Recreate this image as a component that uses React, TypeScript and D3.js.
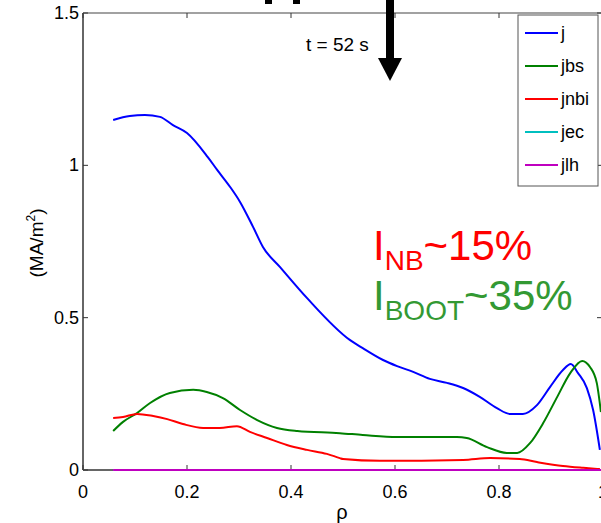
import React from "react";
import * as d3 from "d3";

const W = 601;
const H = 523;

const jRho = [0.058,0.090,0.119,0.148,0.173,0.200,0.240,0.258,0.283,0.302,0.327,0.346,0.379,0.431,0.513,0.538,0.577,0.604,0.635,0.667,0.700,0.731,0.763,0.796,0.821,0.846,0.873,0.898,0.923,0.938,0.952,0.969,0.981,0.994];
const jVal = [1.149,1.162,1.165,1.159,1.132,1.106,1.027,0.985,0.929,0.880,0.798,0.732,0.666,0.564,0.427,0.400,0.361,0.341,0.322,0.299,0.286,0.269,0.240,0.203,0.184,0.184,0.213,0.272,0.328,0.348,0.318,0.269,0.197,0.066];

const jbsRho = [0.058,0.077,0.104,0.129,0.167,0.212,0.238,0.269,0.302,0.335,0.373,0.412,0.494,0.538,0.604,0.719,0.738,0.777,0.815,0.835,0.860,0.885,0.912,0.937,0.960,0.975,0.988,0.996];
const jbsVal = [0.128,0.158,0.187,0.220,0.253,0.263,0.256,0.236,0.197,0.164,0.138,0.128,0.121,0.115,0.108,0.108,0.105,0.075,0.056,0.056,0.089,0.154,0.240,0.318,0.358,0.338,0.286,0.190];

const jnbiRho = [0.058,0.077,0.104,0.135,0.162,0.192,0.231,0.263,0.296,0.321,0.354,0.392,0.431,0.469,0.494,0.500,0.571,0.731,0.783,0.840,0.873,0.923,0.962,0.994];
const jnbiVal = [0.171,0.174,0.184,0.177,0.167,0.151,0.138,0.138,0.144,0.125,0.105,0.082,0.066,0.053,0.039,0.036,0.030,0.033,0.039,0.036,0.026,0.013,0.007,0.003];

const flatRho = [0.058, 1.0];
const jecVal = [0, 0];
const jlhVal = [0, 0];

const xTicks = [0, 0.2, 0.4, 0.6, 0.8, 1];
const yTicks = [0, 0.5, 1, 1.5];

const seriesNames = ["j", "jbs", "jnbi", "jec", "jlh"];
const seriesColors = ["#0000ff", "#008000", "#ff0000", "#00bfbf", "#bf00bf"];

const FONT = "'Liberation Sans', Arial, Helvetica, sans-serif";

export default function App() {
  const x = d3.scaleLinear().domain([0, 1]).range([83, 603]);
  const y = d3.scaleLinear().domain([0, 1.5]).range([470, 13]);

  const mk = (xs: number[], ys: number[]) =>
    d3.line<number>().x((_, i) => x(xs[i])).y((_, i) => y(ys[i])).curve(d3.curveMonotoneX)(ys) || "";

  const series = [
    { xs: jRho, ys: jVal },
    { xs: jbsRho, ys: jbsVal },
    { xs: jnbiRho, ys: jnbiVal },
    { xs: flatRho, ys: jecVal },
    { xs: flatRho, ys: jlhVal },
  ];

  const axisColor = "#666";
  const left = x(0), right = x(1), top = y(1.5), bottom = y(0);

  return (
    <svg width={W} height={H} style={{ position: "absolute", left: 0, top: 0, background: "#fff" }} fontFamily={FONT}>
      <rect x={0} y={0} width={W} height={H} fill="#fff" />
      <line x1={left} x2={right} y1={top} y2={top} stroke="#444" strokeWidth={1.2} />
      <line x1={left} x2={right} y1={bottom} y2={bottom} stroke={axisColor} strokeWidth={2} />
      <line x1={left} x2={left} y1={top} y2={bottom} stroke={axisColor} strokeWidth={2} />
      <line x1={right} x2={right} y1={top} y2={bottom} stroke={axisColor} strokeWidth={2} />
      {xTicks.map((t) => (
        <g key={"x" + t}>
          <line x1={x(t)} x2={x(t)} y1={bottom} y2={bottom - 5} stroke="#333" />
          <line x1={x(t)} x2={x(t)} y1={top} y2={top + 5} stroke="#333" />
          <text x={x(t)} y={498} textAnchor="middle" fontSize={18} fill="#000">{t === 0 ? "0" : String(t)}</text>
        </g>
      ))}
      {yTicks.map((t) => (
        <g key={"y" + t}>
          <line x1={left} x2={left + 5} y1={y(t)} y2={y(t)} stroke="#333" />
          <line x1={right} x2={right - 6} y1={y(t)} y2={y(t)} stroke="#333" />
          <text x={79} y={y(t) + 6} textAnchor="end" fontSize={18} fill="#000">{String(t)}</text>
        </g>
      ))}
      <text x={342} y={519} textAnchor="middle" fontSize={20} fill="#000">ρ</text>
      <text transform={`translate(43,243) rotate(-90)`} textAnchor="middle" fontSize={19} fill="#000">
        (MA/m<tspan dy={-8} fontSize={12}>2</tspan><tspan dy={8}>)</tspan>
      </text>
      <defs>
        <clipPath id="clip">
          <rect x={left} y={top - 5} width={right - left} height={bottom - top + 10} />
        </clipPath>
      </defs>
      <g clipPath="url(#clip)">
        {series.map((s, i) => (
          <path key={i} d={mk(s.xs, s.ys)} fill="none" stroke={seriesColors[i]} strokeWidth={2} />
        ))}
      </g>
      <rect x={518} y={15} width={80} height={171} fill="#fff" stroke="#555" strokeWidth={1} />
      {seriesNames.map((n, i) => {
        const ly = 33 + i * 33;
        return (
          <g key={n}>
            <line x1={525} x2={558} y1={ly} y2={ly} stroke={seriesColors[i]} strokeWidth={2} />
            <text x={561} y={ly + 6} fontSize={18} fill="#000">{n}</text>
          </g>
        );
      })}
      <text x={306} y={51} fontSize={19} fill="#000">t = 52 s</text>
      <rect x={386} y={0} width={8} height={59} fill="#000" />
      <polygon points="378,58 402,58 390,81" fill="#000" />
      <rect x={265} y={0} width={7} height={4} fill="#000" />
      <rect x={293} y={0} width={7} height={4} fill="#000" />
      <text x={373} y={260} fontSize={42} fill="#ff0000">
        I<tspan dy={10} fontSize={28}>NB</tspan><tspan dy={-10}>~15%</tspan>
      </text>
      <text x={373} y={310} fontSize={42} fill="#339933">
        I<tspan dy={10} fontSize={28}>BOOT</tspan><tspan dy={-10}>~35%</tspan>
      </text>
    </svg>
  );
}
